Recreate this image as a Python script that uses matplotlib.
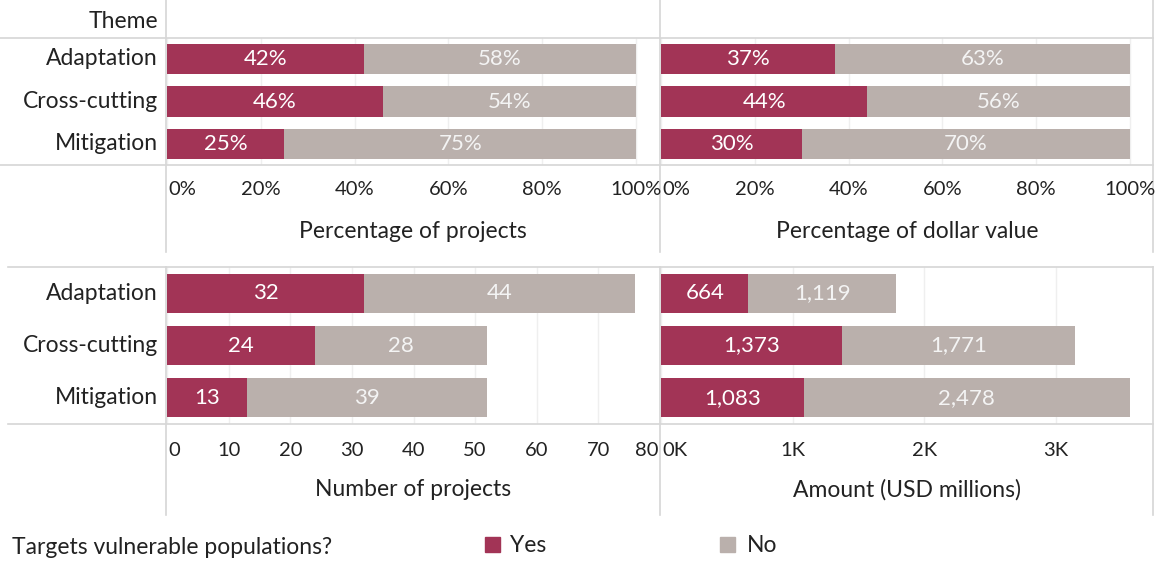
import matplotlib
matplotlib.use("Agg")
import matplotlib.pyplot as plt
from matplotlib.lines import Line2D
from matplotlib.patches import Rectangle

plt.rcParams['font.family'] = ['Lato', 'DejaVu Sans']

themes = ["Adaptation", "Cross-cutting", "Mitigation"]
pct_projects_yes = [42, 46, 25]
pct_projects_no = [58, 54, 75]
pct_value_yes = [37, 44, 30]
pct_value_no = [63, 56, 70]
num_projects_yes = [32, 24, 13]
num_projects_no = [44, 28, 39]
amount_yes = [664, 1373, 1083]
amount_no = [1119, 1771, 2478]

pct_ticks = [0, 20, 40, 60, 80, 100]
pct_ticklabels = ["0%", "20%", "40%", "60%", "80%", "100%"]
num_ticks = [0, 10, 20, 30, 40, 50, 60, 70, 80]
num_ticklabels = ["0", "10", "20", "30", "40", "50", "60", "70", "80"]
amt_ticks = [0, 1000, 2000, 3000]
amt_ticklabels = ["0K", "1K", "2K", "3K"]

YES = "#A23456"
NO = "#BAB0AC"
GRID = "#EFEFEF"
LINE = "#D6D6D6"
TXT = "#222222"

FS_ROW = 16.5
FS_BAR = 16
FS_TICK = 14.5
FS_TITLE = 16.5

W, H = 1162, 563
fig = plt.figure(figsize=(W / 100, H / 100), dpi=100)


def fx(x):
    return x / W


def fy(y):
    return 1 - y / H


def add_ax(x0, y0, x1, y1):
    return fig.add_axes([fx(x0), fy(y1), fx(x1) - fx(x0), fy(y0) - fy(y1)])


def hline(y, x0, x1):
    fig.add_artist(Line2D([fx(x0), fx(x1)], [fy(y), fy(y)], color=LINE, lw=1.2))


def vline(x, y0, y1):
    fig.add_artist(Line2D([fx(x), fx(x)], [fy(y0), fy(y1)], color=LINE, lw=1.2))


def panel(ax, yes, no, xmax, ticks, bh, fmt):
    ax.set_xlim(0, xmax)
    ax.set_ylim(2.5, -0.5)
    for t in ticks:
        ax.axvline(t, color=GRID, lw=1, zorder=0)
    ys = list(range(len(themes)))
    ax.barh(ys, yes, height=bh, color=YES, zorder=2)
    ax.barh(ys, no, left=yes, height=bh, color=NO, zorder=2)
    for i in ys:
        ax.text(yes[i] / 2, i, fmt(yes[i]), ha="center", va="center",
                color="white", fontsize=FS_BAR, zorder=3)
        ax.text(yes[i] + no[i] / 2, i, fmt(no[i]), ha="center", va="center",
                color="#F4F4F4", fontsize=FS_BAR, zorder=3)
    ax.set_xticks([])
    ax.set_yticks([])
    for s in ax.spines.values():
        s.set_visible(False)
    ax.patch.set_alpha(0)


ax1 = add_ax(167, 38, 660, 165)
ax2 = add_ax(661, 38, 1153, 165)
ax3 = add_ax(167, 267, 660, 424)
ax4 = add_ax(661, 267, 1153, 424)

pct_fmt = lambda v: f"{v}%"
num_fmt = lambda v: f"{v}"
amt_fmt = lambda v: f"{v:,}"

PCT_MAX1 = 100 * 493 / 469
PCT_MAX2 = 100 * 492 / 469
AMT_MAX = 492 / 131.7 * 1000

panel(ax1, pct_projects_yes, pct_projects_no, PCT_MAX1, pct_ticks, 0.71, pct_fmt)
panel(ax2, pct_value_yes, pct_value_no, PCT_MAX2, pct_ticks, 0.71, pct_fmt)
panel(ax3, num_projects_yes, num_projects_no, 80, num_ticks, 0.75, num_fmt)
panel(ax4, amount_yes, amount_no, AMT_MAX, amt_ticks, 0.75, amt_fmt)


def tick_labels_clip(ticks, labels, x0px, x1px, ypx, xmax, right_edge):
    for t, lab in zip(ticks, labels):
        xp = x0px + (x1px - x0px) * t / xmax
        ha = "center"
        if t == ticks[0]:
            ha = "left"
            xp = x0px + 1
        elif xp + 20 > right_edge:
            ha = "right"
            xp = right_edge - 1
        fig.text(fx(xp), fy(ypx), lab, ha=ha, va="center", fontsize=FS_TICK, color=TXT)


tick_labels_clip(pct_ticks, pct_ticklabels, 167, 660, 190, PCT_MAX1, 659)
tick_labels_clip(pct_ticks, pct_ticklabels, 661, 1153, 190, PCT_MAX2, 1155)
tick_labels_clip(num_ticks, num_ticklabels, 167, 660, 451, 80, 659)
tick_labels_clip(amt_ticks, amt_ticklabels, 661, 1153, 451, AMT_MAX, 1155)

fig.text(fx(413), fy(231), "Percentage of projects", ha="center", va="center", fontsize=FS_TITLE, color=TXT)
fig.text(fx(907), fy(231), "Percentage of dollar value", ha="center", va="center", fontsize=FS_TITLE, color=TXT)
fig.text(fx(413), fy(490), "Number of projects", ha="center", va="center", fontsize=FS_TITLE, color=TXT)
fig.text(fx(907), fy(490), "Amount (USD millions)", ha="center", va="center", fontsize=FS_TITLE, color=TXT)

fig.text(fx(158), fy(21), "Theme", ha="right", va="center", fontsize=FS_ROW, color=TXT)
for yc, name in zip([58.5, 101.5, 143], themes):
    fig.text(fx(158), fy(yc), name, ha="right", va="center", fontsize=FS_ROW, color=TXT)
for yc, name in zip([293.5, 345.5, 397], themes):
    fig.text(fx(158), fy(yc), name, ha="right", va="center", fontsize=FS_ROW, color=TXT)

hline(38, 0, 1153)
hline(165, 0, 1153)
hline(267, 8, 1153)
hline(424, 8, 1153)
for x in (166, 660, 1153):
    vline(x, 0, 252)
    vline(x, 267, 515)

fig.text(fx(12), fy(547), "Targets vulnerable populations?", ha="left", va="center", fontsize=16.5, color=TXT)
fig.add_artist(Rectangle((fx(485), fy(552)), fx(15), fy(537) - fy(552), color=YES))
fig.text(fx(510), fy(546), "Yes", ha="left", va="center", fontsize=16.5, color=TXT)
fig.add_artist(Rectangle((fx(720), fy(552)), fx(15), fy(537) - fy(552), color=NO))
fig.text(fx(747), fy(546), "No", ha="left", va="center", fontsize=16.5, color=TXT)

fig.savefig("out.png", dpi=100, facecolor="white")
